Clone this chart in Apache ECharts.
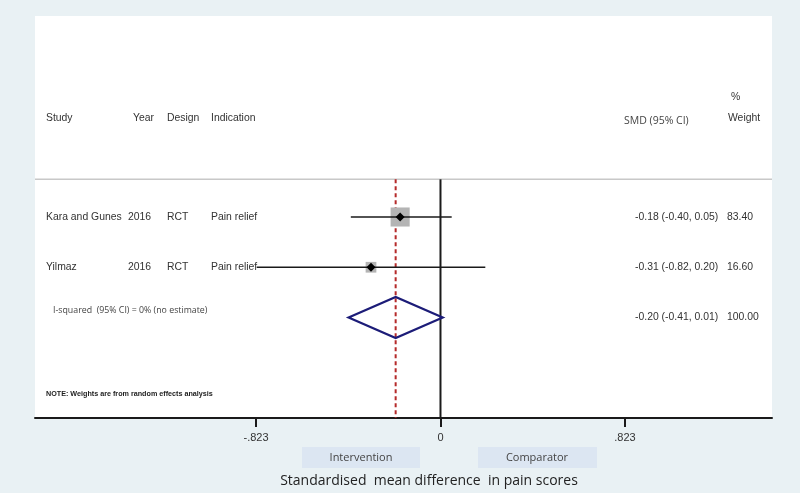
<!DOCTYPE html>
<html>
<head>
<meta charset="utf-8">
<title>Forest plot - pain scores</title>
<script src="https://cdn.jsdelivr.net/npm/echarts@6/dist/echarts.min.js"></script>
<style>
  html, body { margin: 0; padding: 0; background: #e9f1f4; }
  #chart { width: 800px; height: 493px; }
</style>
</head>
<body>
<div id="chart"></div>
<script>
// study rows
const studies = ['Kara and Gunes', 'Yilmaz'];
const years = ['2016', '2016'];
const designs = ['RCT', 'RCT'];
const indications = ['Pain relief', 'Pain relief'];
const smd = [-0.18, -0.31];
const ciLow = [-0.40, -0.82];
const ciHigh = [0.05, 0.20];
const weights = [83.40, 16.60];

// pooled (random effects)
const pooledSmd = -0.20;
const pooledLow = -0.41;
const pooledHigh = 0.01;
const pooledWeight = 100.00;

const xTicks = [-0.823, 0, 0.823];
const xTickLabels = ['-.823', '0', '.823'];

// axis extent of the white plot panel
const X_MIN = -1.809;
const X_MAX = 1.479;
const ROW_TOP = -3;
const ROW_BOTTOM = 5;
const SEP_ROW = 0.25;
const POOLED_ROW = studies.length + 1;

const FONT = '"Liberation Sans", Arial, sans-serif';
const TEXT_COLOR = '#333';
// text column x (px)
const col = { study: 46, year: 128, design: 167, indication: 211, smd: 635, weight: 727 };

const fmt = (v) => v.toFixed(2);
const ciText = (e, l, h) => fmt(e) + ' (' + fmt(l) + ', ' + fmt(h) + ')';

function txt(x, y, s, extra) {
  return {
    type: 'text',
    x: x,
    y: y,
    style: Object.assign({
      text: s,
      fill: TEXT_COLOR,
      font: '10.4px ' + FONT,
      textVerticalAlign: 'middle',
    }, extra || {}),
  };
}

const chart = echarts.init(document.getElementById('chart'));

const option = {
  backgroundColor: '#e9f1f4',
  animation: false,
  grid: { left: 35, right: 28, top: 16, bottom: 75, show: true, backgroundColor: '#ffffff', borderWidth: 0 },
  xAxis: {
    type: 'value',
    min: X_MIN,
    max: X_MAX,
    splitLine: { show: false },
    axisLine: { onZero: false, lineStyle: { color: '#1a1a1a', width: 2 } },
    axisTick: { customValues: xTicks, length: 9, lineStyle: { color: '#1a1a1a', width: 2 } },
    axisLabel: {
      customValues: xTicks,
      margin: 14,
      color: TEXT_COLOR,
      fontSize: 11,
      fontFamily: FONT,
      formatter: (v) => {
        const i = xTicks.findIndex((t) => Math.abs(t - v) < 1e-6);
        return i >= 0 ? xTickLabels[i] : '';
      },
    },
  },
  yAxis: {
    type: 'value',
    inverse: true,
    min: ROW_TOP,
    max: ROW_BOTTOM,
    show: false,
  },
  series: [
    {
      // separator, null line, pooled estimate line
      type: 'custom',
      silent: true,
      clip: false,
      data: [[0, SEP_ROW]],
      renderItem: (params, api) => {
        const sepL = api.coord([X_MIN, SEP_ROW]);
        const sepR = api.coord([X_MAX, SEP_ROW]);
        const z0 = api.coord([0, SEP_ROW]);
        const z1 = api.coord([0, ROW_BOTTOM]);
        const p0 = api.coord([pooledSmd, SEP_ROW]);
        const p1 = api.coord([pooledSmd, ROW_BOTTOM]);
        return {
          type: 'group',
          children: [
            { type: 'line', shape: { x1: sepL[0], y1: sepL[1], x2: sepR[0], y2: sepR[1] }, style: { stroke: '#c8c8c8', lineWidth: 1.5 } },
            { type: 'line', shape: { x1: z0[0], y1: z0[1], x2: z1[0], y2: z1[1] }, style: { stroke: '#1a1a1a', lineWidth: 2 } },
            { type: 'line', shape: { x1: p0[0], y1: p0[1], x2: p1[0], y2: p1[1] }, style: { stroke: '#b52a2a', lineWidth: 2, lineDash: [4, 3] } },
          ],
        };
      },
    },
    {
      // individual studies
      type: 'custom',
      silent: true,
      clip: false,
      encode: { x: 0, y: 1 },
      data: studies.map((s, i) => [smd[i], i + 1, i]),
      renderItem: (params, api) => {
        const i = api.value(2);
        const row = api.value(1);
        const c = api.coord([smd[i], row]);
        const lo = api.coord([ciLow[i], row]);
        const hi = api.coord([ciHigh[i], row]);
        const y = c[1];
        const s = 4 + 1.65 * Math.sqrt(weights[i]);
        return {
          type: 'group',
          children: [
            txt(col.study, y, studies[i]),
            txt(col.year, y, years[i]),
            txt(col.design, y, designs[i]),
            txt(col.indication, y, indications[i]),
            txt(col.smd, y, ciText(smd[i], ciLow[i], ciHigh[i])),
            txt(col.weight, y, fmt(weights[i])),
            { type: 'rect', shape: { x: c[0] - s / 2, y: y - s / 2, width: s, height: s }, style: { fill: '#b4b4b4' } },
            { type: 'line', shape: { x1: lo[0], y1: y, x2: hi[0], y2: y }, style: { stroke: '#1a1a1a', lineWidth: 1.6 } },
            { type: 'polygon', shape: { points: [[c[0] - 4.5, y], [c[0], y - 4.5], [c[0] + 4.5, y], [c[0], y + 4.5]] }, style: { fill: '#000' } },
          ],
        };
      },
    },
    {
      // pooled diamond
      type: 'custom',
      silent: true,
      clip: false,
      encode: { x: 0, y: 1 },
      data: [[pooledSmd, POOLED_ROW]],
      renderItem: (params, api) => {
        const c = api.coord([pooledSmd, POOLED_ROW]);
        const top = api.coord([pooledSmd, POOLED_ROW - 0.41]);
        const bot = api.coord([pooledSmd, POOLED_ROW + 0.41]);
        const lo = api.coord([pooledLow, POOLED_ROW]);
        const hi = api.coord([pooledHigh, POOLED_ROW]);
        return {
          type: 'group',
          children: [
            txt(col.smd, c[1], ciText(pooledSmd, pooledLow, pooledHigh)),
            txt(col.weight, c[1], fmt(pooledWeight)),
            {
              type: 'polygon',
              shape: { points: [[lo[0], c[1]], [c[0], top[1]], [hi[0], c[1]], [c[0], bot[1]]] },
              style: { fill: 'none', stroke: '#1c1c78', lineWidth: 2.2 },
            },
          ],
        };
      },
    },
  ],
  graphic: [
    // header
    txt(46, 118, 'Study'),
    txt(133, 118, 'Year'),
    txt(167, 118, 'Design'),
    txt(211, 118, 'Indication'),
    txt(624, 121, 'SMD (95% CI)', { font: '10.5px "Open Sans", ' + FONT, fill: '#444' }),
    txt(731, 97, '%'),
    txt(728, 118, 'Weight'),
    // heterogeneity + note
    txt(53, 310, 'I-squared  (95% CI) = 0% (no estimate)', { font: '8.8px "Open Sans", ' + FONT, fill: '#444' }),
    txt(46, 394, 'NOTE: Weights are from random effects analysis', { font: 'bold 7.2px ' + FONT, fill: '#222' }),
    // direction boxes
    { type: 'rect', shape: { x: 302, y: 447, width: 118, height: 21 }, style: { fill: '#dce6f2' } },
    { type: 'rect', shape: { x: 478, y: 447, width: 119, height: 21 }, style: { fill: '#dce6f2' } },
    txt(361, 458, 'Intervention', { font: '11px "Open Sans", ' + FONT, fill: '#444', textAlign: 'center' }),
    txt(537, 458, 'Comparator', { font: '11px "Open Sans", ' + FONT, fill: '#444', textAlign: 'center' }),
    // axis title
    txt(429, 481, 'Standardised  mean difference  in pain scores', { font: '14px "Open Sans", ' + FONT, fill: '#222', textAlign: 'center' }),
  ],
};

chart.setOption(option);
</script>
</body>
</html>
